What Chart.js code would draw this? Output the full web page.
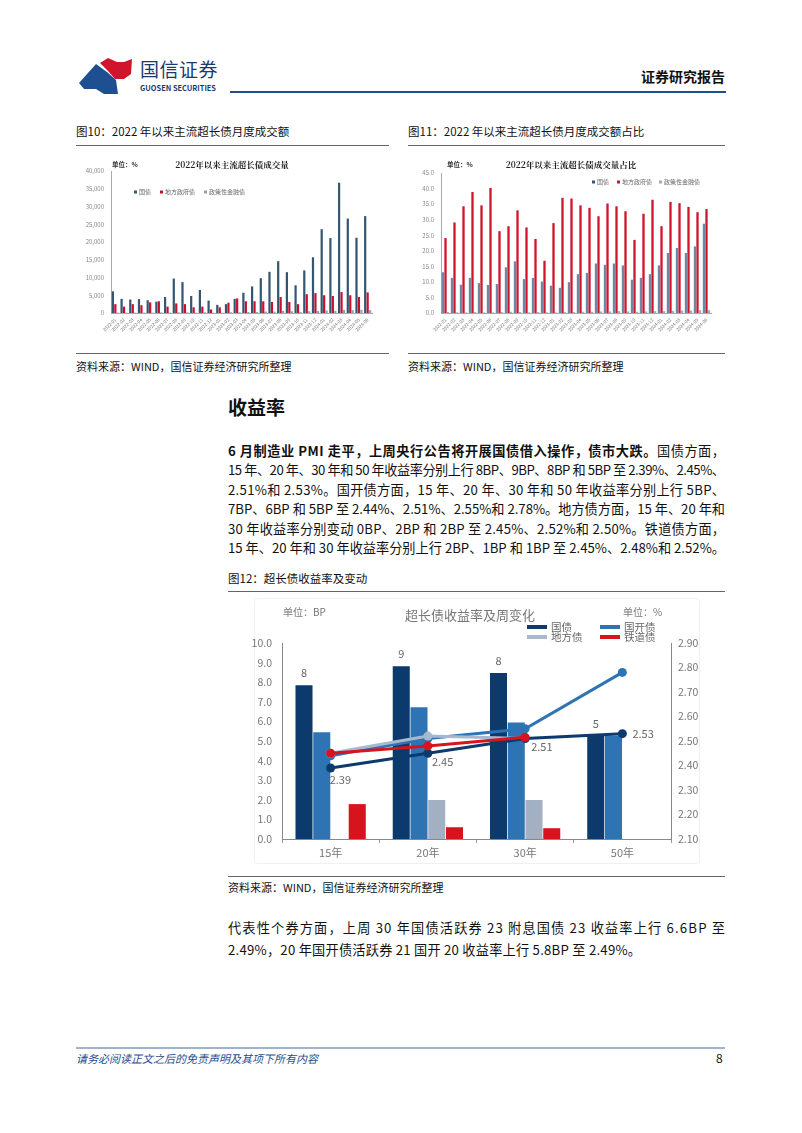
<!DOCTYPE html>
<html><head><meta charset="utf-8">
<script src="https://cdn.jsdelivr.net/npm/chart.js@4.4.1/dist/chart.umd.min.js"></script>
<style>
body{margin:0;background:#fff;}
#page{position:relative;width:802px;height:1133px;overflow:hidden;font-family:'Noto Sans CJK SC','Noto Sans',sans-serif;color:#111;}
.a{position:absolute;white-space:nowrap;}
.hl{position:absolute;}
.p{position:absolute;left:228px;width:520px;font-size:13.2px;height:20px;line-height:20px;white-space:nowrap;text-align:left;color:#111;}
canvas{position:absolute;}
</style></head>
<body><div id="page">
<!-- header -->
<svg class="a" style="left:76px;top:54px" width="64" height="44" viewBox="0 0 64 44">
  <polygon points="24,9 32,4 41,8 48,8 56,5 55,20 48,25 39,25 32,17" fill="#d0142c"/>
  <polygon points="3,29 20,10 31,18 40,26 42,40 28,40 20,35 8,35" fill="#1d4f91"/>
</svg>
<div class="a" style="left:140px;top:57px;font-size:19px;line-height:24px;color:#1b3a6e;letter-spacing:0.5px;">国信证券</div>
<div class="a" style="left:140px;top:83px;font-size:7.4px;line-height:9px;font-weight:bold;color:#1b3a6e;">GUOSEN SECURITIES</div>
<div class="a" style="left:641px;top:66px;font-size:14px;line-height:20px;font-weight:bold;color:#111;">证券研究报告</div>
<div class="hl" style="left:230px;top:91px;width:496px;height:2px;background:#1f4e8c;"></div>

<!-- captions fig10/11 -->
<div class="a" style="left:76px;top:124px;font-size:11.5px;line-height:14px;">图10：2022 年以来主流超长债月度成交额</div>
<div class="hl" style="left:76px;top:145px;width:313px;height:1px;background:#666;"></div>
<div class="a" style="left:408px;top:124px;font-size:11.5px;line-height:14px;">图11：2022 年以来主流超长债月度成交额占比</div>
<div class="hl" style="left:408px;top:145px;width:317px;height:1px;background:#666;"></div>

<canvas id="c10" width="314" height="200" style="left:76px;top:150px;"></canvas>
<canvas id="c11" width="317" height="200" style="left:408px;top:150px;"></canvas>

<div class="hl" style="left:76px;top:353px;width:313px;height:1px;background:#666;"></div>
<div class="a" style="left:76px;top:359px;font-size:11px;line-height:14px;">资料来源：WIND，国信证券经济研究所整理</div>
<div class="hl" style="left:408px;top:353px;width:317px;height:1px;background:#666;"></div>
<div class="a" style="left:408px;top:359px;font-size:11px;line-height:14px;">资料来源：WIND，国信证券经济研究所整理</div>

<!-- section -->
<div class="a" style="left:228px;top:395px;font-size:19px;line-height:24px;font-weight:bold;">收益率</div>
<div class="p j" data-w="497" style="top:441px;"><b>6 月制造业 PMI 走平，上周央行公告将开展国债借入操作，债市大跌。</b>国债方面，</div>
<div class="p j" data-w="497" style="top:460.4px;">15 年、20 年、30 年和 50 年收益率分别上行 8BP、9BP、8BP 和 5BP 至 2.39%、2.45%、</div>
<div class="p j" data-w="497" style="top:479.8px;">2.51%和 2.53%。国开债方面，15 年、20 年、30 年和 50 年收益率分别上行 5BP、</div>
<div class="p j" data-w="497" style="top:499.2px;">7BP、6BP 和 5BP 至 2.44%、2.51%、2.55%和 2.78%。地方债方面，15 年、20 年和</div>
<div class="p j" data-w="497" style="top:518.6px;">30 年收益率分别变动 0BP、2BP 和 2BP 至 2.45%、2.52%和 2.50%。铁道债方面，</div>
<div class="p j" data-w="497" style="top:538px;">15 年、20 年和 30 年收益率分别上行 2BP、1BP 和 1BP 至 2.45%、2.48%和 2.52%。</div>

<div class="a" style="left:228px;top:571px;font-size:11.5px;line-height:14px;">图12：超长债收益率及变动</div>
<div class="hl" style="left:228px;top:591px;width:497px;height:1px;background:#666;"></div>
<div class="hl" style="left:254px;top:598px;width:444px;height:264px;border:1px solid #f0f0f0;border-radius:4px;"></div>
<canvas id="c12" width="460" height="265" style="left:252px;top:598px;"></canvas>
<div class="hl" style="left:228px;top:876px;width:497px;height:1px;background:#666;"></div>
<div class="a" style="left:228px;top:880px;font-size:11px;line-height:14px;">资料来源：WIND，国信证券经济研究所整理</div>

<div class="p j" data-w="497" style="top:918px;">代表性个券方面，上周 30 年国债活跃券 23 附息国债 23 收益率上行 6.6BP 至</div>
<div class="p j" data-w="413" style="top:940px;">2.49%，20 年国开债活跃券 21 国开 20 收益率上行 5.8BP 至 2.49%。</div>

<!-- footer -->
<div class="hl" style="left:76px;top:1047px;width:649px;height:2px;background:#9fb3cc;"></div>
<div class="a" style="left:76px;top:1051px;font-size:11px;line-height:14px;font-style:italic;color:#1f4e8c;">请务必阅读正文之后的免责声明及其项下所有内容</div>
<div class="a" style="left:716px;top:1051px;font-size:12px;line-height:14px;color:#111;">8</div>
</div>

<script>
// ---------- data ----------
const months = ['2022-01','2022-02','2022-03','2022-04','2022-05','2022-06','2022-07','2022-08','2022-09','2022-10','2022-11','2022-12',
                '2023-01','2023-02','2023-03','2023-04','2023-05','2023-06','2023-07','2023-08','2023-09','2023-10','2023-11','2023-12',
                '2024-01','2024-02','2024-03','2024-04','2024-05','2024-06'];
const seriesNames10 = ['国债','地方政府债','政策性金融债'];
const volGov    = [6100,4000,3800,3900,3600,3200,4500,9700,8700,4800,6500,3500,2300,2500,4000,5700,7500,9800,11600,14600,11500,7800,12000,15700,23600,21100,36700,26600,21200,27300];
const volLocal  = [2500,1800,2500,2200,3000,3300,1800,2700,2500,1600,1800,1000,1600,2900,4100,3300,3300,3300,3100,4500,3100,2500,5300,5600,5000,4800,5900,5000,4500,5800];
const volPolicy = [100,100,100,100,100,200,100,200,200,100,200,100,100,200,200,300,300,400,400,600,500,300,500,600,700,600,900,800,900,800];

const shareGov    = [13.1,11.3,9.1,11.3,9.6,9.0,9.3,14.7,16.6,10.9,11.3,10.1,8.8,8.1,9.9,12.5,12.9,15.9,15.5,15.9,15.3,10.7,11.3,12.5,15.3,19.3,20.9,19.3,21.4,28.7];
const shareLocal  = [24.1,29.1,34.3,38.9,34.6,40.2,26.3,27.9,33.0,27.5,23.8,16.8,28.9,37.0,36.8,34.6,33.8,31.1,35.2,34.3,32.7,23.5,31.9,36.4,27.9,35.7,35.3,34.1,32.4,33.4];
const sharePolicy = [0.3,0.2,0.2,0.3,0.2,0.2,0.3,0.4,0.3,0.2,0.3,0.2,0.2,0.3,0.3,0.4,0.4,0.5,0.5,0.6,0.5,0.4,0.5,0.6,0.6,0.7,0.8,0.8,0.9,0.9];

const tenors = ['15年','20年','30年','50年'];
const seriesNames12 = ['国债','国开债','地方债','铁道债'];
const chgGov   = [7.85, 8.82, 8.47, 5.25];
const chgCdb   = [5.45, 6.72, 5.95, 5.27];
const chgLocal = [null, 1.99, 1.99, null];
const chgRail  = [1.78, 0.60, 0.55, null];
const yldGov   = [2.39, 2.45, 2.51, 2.53];
const yldCdb   = [2.44, 2.51, 2.55, 2.78];
const yldLocal = [2.45, 2.52, 2.51, null];
const yldRail  = [2.45, 2.48, 2.515, null];
const yTicks12Left = {min:0, max:10, step:1};
const yTicks12Right = {min:2.1, max:2.9, step:0.1};

// ---------- justify paragraph lines ----------
(function(){
  document.querySelectorAll('.p').forEach(d => {
    const W = +d.dataset.w;
    const s = document.createElement('span'); s.innerHTML = d.innerHTML; d.innerHTML = ''; d.appendChild(s);
    const w = s.getBoundingClientRect().width;
    const n = [...s.textContent].length;
    d.style.letterSpacing = ((W - w) / (n - 1)) + 'px';
  });
})();

// ---------- common ----------
Chart.defaults.font.family = "'Noto Sans CJK SC','Noto Sans',sans-serif";
Chart.defaults.animation = false;

const textPlugin = {
  id: 'texts',
  afterDraw(chart, args, opts) {
    const ctx = chart.ctx;
    (opts.items || []).forEach(it => {
      ctx.save();
      ctx.font = it.font; ctx.fillStyle = it.color || '#333';
      ctx.textAlign = it.align || 'left'; ctx.textBaseline = 'middle';
      ctx.fillText(it.text, it.x, it.y);
      ctx.restore();
    });
    (opts.legend || []).forEach(it => {
      const ds = chart.data.datasets[it.ds];
      ctx.save();
      ctx.fillStyle = it.sampleColor || ds.borderColor || ds.backgroundColor;
      if (it.line) ctx.fillRect(it.x, it.y - 2, 20, 4);
      else ctx.fillRect(it.x, it.y - 1.5, 3, 3);
      ctx.font = it.font; ctx.fillStyle = it.color || '#444';
      ctx.textAlign = 'left'; ctx.textBaseline = 'middle';
      ctx.fillText(ds.label, it.x + (it.line ? 24 : 5), it.y);
      ctx.restore();
    });
  }
};

function smallBarChart(id, labels, sets, yMax, yStep, fmt, geom, texts) {
  return new Chart(document.getElementById(id), {
    type: 'bar',
    data: { labels, datasets: sets },
    options: {
      responsive: false, devicePixelRatio: 1,
      layout: { padding: { top: geom.top, right: geom.right, left: 0, bottom: 0 } },
      plugins: { legend: { display: false }, tooltip: { enabled: false }, texts },
      datasets: { bar: { categoryPercentage: 0.85, barPercentage: 0.9 } },
      scales: {
        x: {
          grid: { display: false, drawTicks: false }, border: { color: '#aaa' },
          ticks: { font: { size: 4.5 }, color: '#777', minRotation: 45, maxRotation: 45, autoSkip: false, padding: 4 },
          afterFit(s) { s.height = geom.xh; }
        },
        y: {
          min: 0, max: yMax,
          grid: { display: false, drawTicks: false }, border: { color: '#aaa' },
          ticks: { stepSize: yStep, font: { size: 6 }, color: '#888', padding: 7, callback: fmt },
          afterFit(s) { s.width = geom.yw; }
        }
      }
    },
    plugins: [textPlugin]
  });
}

// ---------- figure 10 ----------
smallBarChart('c10', months, [
  { label: seriesNames10[0], data: volGov,    backgroundColor: '#34566f' },
  { label: seriesNames10[1], data: volLocal,  backgroundColor: '#c8102e' },
  { label: seriesNames10[2], data: volPolicy, backgroundColor: '#93a3b6' }
], 40000, 5000, v => v.toLocaleString('en-US') ,
  { top: 21, right: 18, xh: 37, yw: 35 },
  { items: [
      { text: '2022年以来主流超长债成交量', x: 156, y: 15, font: 'bold 8.5px "Noto Serif CJK SC","Noto Sans CJK SC"', color: '#222', align: 'center' },
      { text: '单位：%', x: 36, y: 15, font: 'bold 6.5px "Noto Sans CJK SC"', color: '#333' }
    ],
    legend: [
      { ds: 0, x: 58, y: 42, font: '6px "Noto Sans CJK SC"', color: '#666', sampleColor: '#34566f' },
      { ds: 1, x: 84, y: 42, font: '6px "Noto Sans CJK SC"', color: '#666', sampleColor: '#c8102e' },
      { ds: 2, x: 128, y: 42, font: '6px "Noto Sans CJK SC"', color: '#666', sampleColor: '#93a3b6' }
    ] });

// ---------- figure 11 ----------
smallBarChart('c11', months, [
  { label: seriesNames10[0], data: shareGov,    backgroundColor: '#6f86a5' },
  { label: seriesNames10[1], data: shareLocal,  backgroundColor: '#d0142c' },
  { label: seriesNames10[2], data: sharePolicy, backgroundColor: '#a3adb9' }
], 45, 5, v => v.toFixed(1),
  { top: 23, right: 14, xh: 37, yw: 33 },
  { items: [
      { text: '2022年以来主流超长债成交量占比', x: 163, y: 15, font: 'bold 8.5px "Noto Serif CJK SC","Noto Sans CJK SC"', color: '#222', align: 'center' },
      { text: '单位：%', x: 39, y: 15, font: 'bold 6.5px "Noto Sans CJK SC"', color: '#333' }
    ],
    legend: [
      { ds: 0, x: 184, y: 32, font: '6px "Noto Sans CJK SC"', color: '#666', sampleColor: '#34566f' },
      { ds: 1, x: 209, y: 32, font: '6px "Noto Sans CJK SC"', color: '#666', sampleColor: '#d0142c' },
      { ds: 2, x: 251, y: 32, font: '6px "Noto Sans CJK SC"', color: '#666', sampleColor: '#a3adb9' }
    ] });

// ---------- figure 12 ----------
const C_GOV = '#0c3a6c', C_CDB = '#2e74b5', C_LOC = '#a2b0c1', C_LOC_L = '#a9b9cd', C_RAIL = '#d7141e';

const labelPlugin = {
  id: 'labels12',
  afterDatasetsDraw(chart) {
    const ctx = chart.ctx;
    ctx.save();
    ctx.font = '11px "Noto Sans CJK SC"'; ctx.fillStyle = '#666';
    ctx.textBaseline = 'middle';
    const mb = chart.getDatasetMeta(0);
    ctx.textAlign = 'center';
    mb.data.forEach((el, i) => {
      const v = chart.data.datasets[0].data[i];
      if (v == null) return;
      ctx.fillText(String(Math.round(v)), el.x, el.y - 12);
    });
    const ml = chart.getDatasetMeta(4);
    const offs = [[-1, 12], [4, 9], [6, 8], [10, 0]];
    ctx.textAlign = 'left';
    ml.data.forEach((el, i) => {
      const v = chart.data.datasets[4].data[i];
      if (v == null) return;
      ctx.fillText(v.toFixed(2), el.x + offs[i][0], el.y + offs[i][1]);
    });
    ctx.restore();
  }
};

function lineDs(label, data, color, order) {
  return { type: 'line', label, data, yAxisID: 'y1', borderColor: color, backgroundColor: color,
           borderWidth: 3, pointRadius: 4.5, pointBackgroundColor: color, pointBorderWidth: 0, order, spanGaps: false };
}

new Chart(document.getElementById('c12'), {
  type: 'bar',
  data: {
    labels: tenors,
    datasets: [
      { label: seriesNames12[0], data: chgGov,   backgroundColor: C_GOV,  yAxisID: 'y', order: 10 },
      { label: seriesNames12[1], data: chgCdb,   backgroundColor: C_CDB,  yAxisID: 'y', order: 10 },
      { label: seriesNames12[2], data: chgLocal, backgroundColor: C_LOC,  yAxisID: 'y', order: 10 },
      { label: seriesNames12[3], data: chgRail,  backgroundColor: C_RAIL, yAxisID: 'y', order: 10 },
      lineDs(seriesNames12[0], yldGov,   C_GOV,   2),
      lineDs(seriesNames12[1], yldCdb,   C_CDB,   4),
      lineDs(seriesNames12[2], yldLocal, C_LOC_L, 3),
      lineDs(seriesNames12[3], yldRail,  C_RAIL,  1)
    ]
  },
  options: {
    responsive: false, devicePixelRatio: 1,
    layout: { padding: { top: 45, left: 0, right: 0, bottom: 0 } },
    datasets: { bar: { categoryPercentage: 0.73, barPercentage: 0.96 } },
    plugins: {
      legend: { display: false }, tooltip: { enabled: false },
      texts: {
        items: [
          { text: '超长债收益率及周变化', x: 218, y: 17, font: '13px "Noto Sans CJK SC"', color: '#777', align: 'center' },
          { text: '单位：BP', x: 31, y: 14, font: '10px "Noto Sans CJK SC"', color: '#777' },
          { text: '单位：%', x: 371, y: 14, font: '10px "Noto Sans CJK SC"', color: '#777' }
        ],
        legend: [
          { ds: 4, x: 275, y: 29, line: true, font: '10.5px "Noto Sans CJK SC"', color: '#666' },
          { ds: 5, x: 348, y: 29, line: true, font: '10.5px "Noto Sans CJK SC"', color: '#666' },
          { ds: 6, x: 275, y: 39, line: true, font: '10.5px "Noto Sans CJK SC"', color: '#666' },
          { ds: 7, x: 348, y: 39, line: true, font: '10.5px "Noto Sans CJK SC"', color: '#666' }
        ]
      }
    },
    scales: {
      x: {
        grid: { display: true, drawOnChartArea: false, tickLength: 4, color: '#999' },
        border: { color: '#888' },
        ticks: { font: { size: 11 }, color: '#777', padding: 3 },
        afterFit(s) { s.height = 24; }
      },
      y: {
        position: 'left', min: yTicks12Left.min, max: yTicks12Left.max,
        grid: { display: false, drawTicks: false }, border: { color: '#888' },
        ticks: { stepSize: yTicks12Left.step, font: { size: 10.5 }, color: '#777', padding: 10, callback: v => v.toFixed(1) },
        afterFit(s) { s.width = 30; }
      },
      y1: {
        position: 'right', min: yTicks12Right.min, max: yTicks12Right.max,
        grid: { display: false, drawTicks: false }, border: { color: '#888' },
        ticks: { stepSize: yTicks12Right.step, font: { size: 10.5 }, color: '#777', padding: 7, callback: v => v.toFixed(2) },
        afterFit(s) { s.width = 41; }
      }
    }
  },
  plugins: [textPlugin, labelPlugin]
});
</script>
</body></html>
